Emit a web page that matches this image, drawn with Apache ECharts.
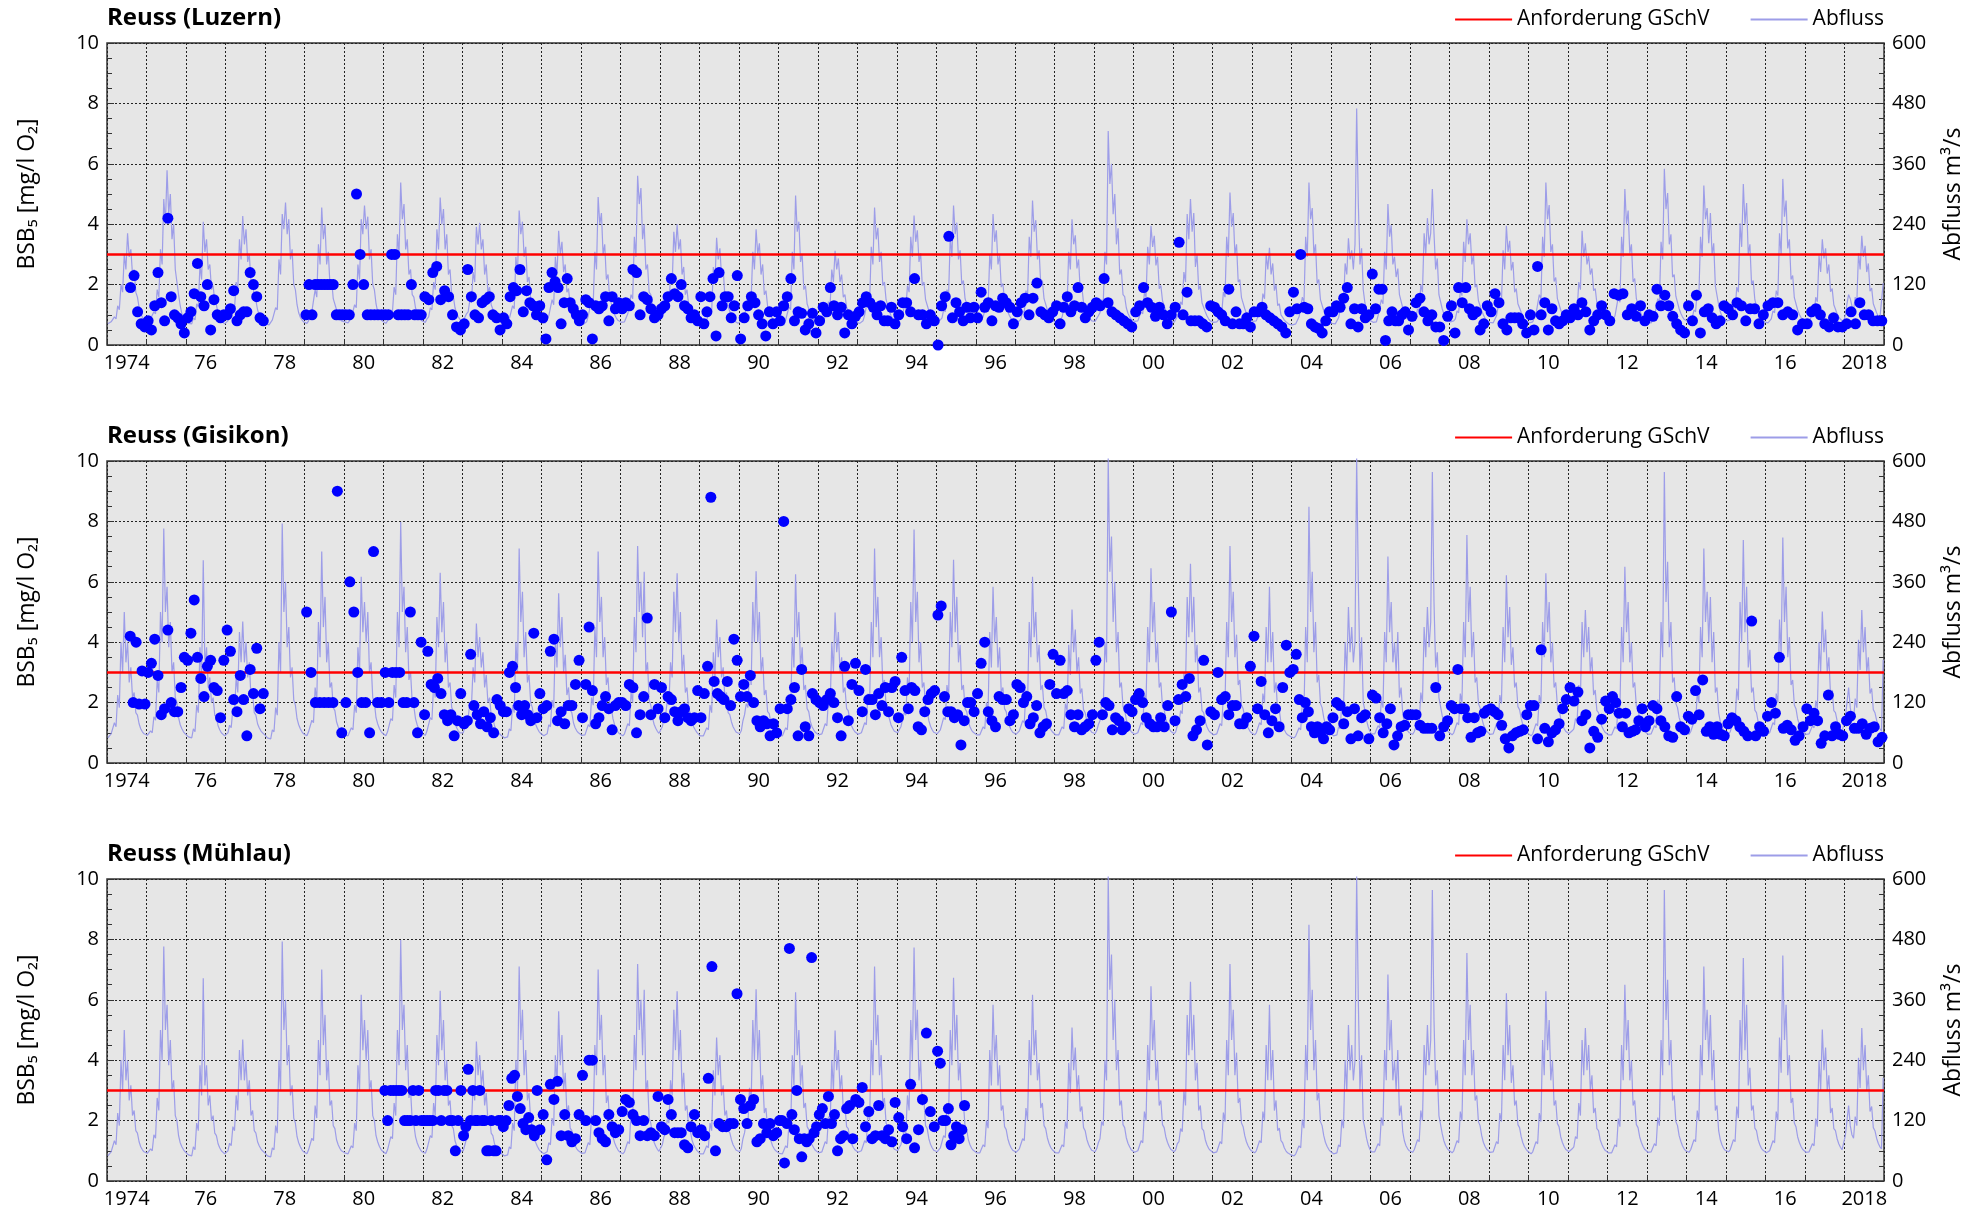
<!DOCTYPE html>
<html><head><meta charset="utf-8">
<script src="https://cdn.jsdelivr.net/npm/echarts@6/dist/echarts.min.js"></script>
<style>html,body{margin:0;padding:0;background:#fff}#chart{width:1984px;height:1214px}</style>
</head><body><div id="chart"></div>
<script>
const FONT = "'Open Sans', 'Noto Sans', sans-serif";
const panelTitles = ['Reuss (Luzern)', 'Reuss (Gisikon)', 'Reuss (Mühlau)'];
const legendNames = ['Anforderung GSchV', 'Abfluss'];
const leftAxisName = 'BSB₅ [mg/l O₂]';
const rightAxisName = 'Abfluss m³/s';
const xTickLabels = ['1974','','76','','78','','80','','82','','84','','86','','88','','90','','92','','94','','96','','98','','00','','02','','04','','06','','08','','10','','12','','14','','16','','2018'];
const xRange = [1974, 2019];
const bsbRange = [0, 10, 2];
const flowRange = [0, 600, 120];
const thresholdValue = 3;

// BSB5 measurements: [year, values in time order within that year]
const luzernSpan = [1974.55, 2019];
const luzernBsb = [
 [1974,[1.9,2.3,1.1,0.7,0.6]],
 [1975,[0.8,0.5,1.3,2.4,1.4,0.8,4.2,1.6,1.0,0.9,0.7,0.4]],
 [1976,[0.9,1.1,1.7,2.7,1.6,1.3,2.0,0.5,1.5,1.0,0.9,1.0]],
 [1977,[1.0,1.2,1.8,0.8,1.0,1.1,1.1,2.4,2.0,1.6,0.9,0.8]],
 [1979,[1.0,2.0,1.0,2.0,2.0,2.0,2.0,2.0,2.0,2.0,1.0,1.0,1.0]],
 [1980,[1.0,1.0,2.0,5.0,3.0,2.0,1.0,1.0,1.0,1.0,1.0]],
 [1981,[1.0,1.0,3.0,3.0,1.0,1.0,1.0,1.0,2.0,1.0,1.0,1.0]],
 [1982,[1.6,1.5,2.4,2.6,1.5,1.8,1.6,1.0,0.6,0.5]],
 [1983,[0.7,2.5,1.6,1.0,0.9,1.4,1.5,1.6,1.0,0.9,0.5]],
 [1984,[0.9,0.7,1.6,1.9,1.8,2.5,1.1,1.8,1.4,1.3,1.0,1.3]],
 [1985,[0.9,0.2,1.9,2.4,2.1,1.9,0.7,1.4,2.2,1.4,1.2,1.0,0.8]],
 [1986,[1.0,1.5,1.4,0.2,1.3,1.2,1.3,1.6,0.8,1.6,1.2,1.4]],
 [1987,[1.2,1.4,1.3,2.5,2.4,1.0,1.6,1.5,1.2,0.9,1.0]],
 [1988,[1.2,1.3,1.6,2.2,1.7,1.6,2.0,1.3,1.2,0.9,1.0,0.8]],
 [1989,[1.6,0.7,1.1,1.6,2.2,0.3,2.4,1.3,1.6,1.6,0.9,1.3,2.3]],
 [1990,[0.2,0.9,1.3,1.6,1.4,1.0,0.7,0.3,1.1,0.7,1.1]],
 [1991,[0.8,1.3,1.6,2.2,0.8,1.1,1.05,0.5,0.7,1.05,0.4]],
 [1992,[0.8,1.25,1.1,1.9,1.3,1.0,1.25,0.4,1.0,0.7,0.95]],
 [1993,[1.1,1.4,1.6,1.4,1.25,1.0,1.3,0.8,0.8,1.25,0.7]],
 [1994,[1.0,1.4,1.4,1.1,2.2,1.0,1.0,0.7,1.0,0.8]],
 [1995,[0.0,1.3,1.6,3.6,0.9,1.4,1.1,0.8,1.25,0.9,1.25]],
 [1996,[0.9,1.75,1.25,1.4,0.8,1.3,1.25,1.55,1.4,1.25,0.7]],
 [1997,[1.1,1.4,1.55,1.0,1.55,2.05,1.1,1.0,0.9,1.1]],
 [1998,[1.3,0.7,1.25,1.6,1.1,1.3,1.9,1.25,0.9,1.1,1.25]],
 [1999,[1.4,1.3,2.2,1.4,1.1,1.0,0.9,0.8,0.7,0.6]],
 [2000,[1.1,1.3,1.9,1.4,1.25,0.95,1.25,1.0,0.7,1.0]],
 [2001,[1.25,3.4,1.0,1.75,0.8,0.8,0.8,0.7,0.6,1.3]],
 [2002,[1.25,1.1,1.0,0.8,1.85,0.7,1.1,0.7,0.7,0.9,0.6]],
 [2003,[1.1,1.1,1.25,1.0,0.9,0.8,0.7,0.6,0.4,1.1]],
 [2004,[1.75,1.2,3.0,1.25,1.2,0.7,0.6,0.55,0.4,0.8,1.1]],
 [2005,[1.1,1.3,1.25,1.55,1.9,0.7,1.2,0.6,1.2,0.9,1.0]],
 [2006,[2.35,1.2,1.85,1.85,0.15,0.8,1.1,0.8,0.8,1.0,1.1,0.5]],
 [2007,[0.95,1.4,1.55,1.1,0.8,1.0,0.6,0.6,0.15,0.95]],
 [2008,[1.3,0.4,1.9,1.4,1.9,1.2,1.0,1.1,0.5,0.7,1.3]],
 [2009,[1.1,1.7,1.4,0.7,0.5,0.9,0.9,0.9,0.7,0.4]],
 [2010,[1.0,0.5,2.6,1.0,1.4,0.5,1.2,0.8,0.7,0.8,1.0]],
 [2011,[0.9,1.2,1.0,1.4,1.1,0.5,0.8,1.0,1.3,1.0]],
 [2012,[0.8,1.7,1.65,1.7,1.0,1.2,0.95,1.3,0.8]],
 [2013,[1.0,0.95,1.85,1.3,1.65,1.3,0.95,0.7,0.5,0.4]],
 [2014,[1.3,0.8,1.65,0.4,1.1,1.2,0.9,0.7,0.8,1.3]],
 [2015,[1.2,1.0,1.4,1.3,0.8,1.2,1.2,0.7,1.0]],
 [2016,[1.3,1.4,1.4,1.0,1.1,1.0,0.5,0.7]],
 [2017,[0.7,1.1,1.2,1.0,0.7,0.6,0.9,0.6,0.6]],
 [2018,[0.7,1.1,0.7,1.4,1.0,1.0,0.8,0.8,0.8]]
];

const gisikonSpan = [1974.55, 2019];
const gisikonBsb = [
 [1974,[4.2,2.0,4.0,1.95,3.05,1.95]],
 [1975,[3.0,3.3,4.1,2.9,1.6,1.8,4.4,2.0,1.7,1.7,2.5,3.5]],
 [1976,[3.4,4.3,5.4,3.5,2.8,2.2,3.2,3.4,2.5,2.4,1.5,3.4]],
 [1977,[4.4,3.7,2.1,1.7,2.9,2.1,0.9,3.1,2.3,3.8,1.8,2.3]],
 [1979,[5.0,3.0,2.0,2.0,2.0,2.0,2.0,9.0,1.0]],
 [1980,[2.0,6.0,5.0,3.0,2.0,2.0,1.0,7.0,2.0,2.0]],
 [1981,[3.0,2.0,3.0,3.0,3.0,2.0,2.0,5.0,2.0,1.0,4.0]],
 [1982,[1.6,3.7,2.6,2.5,2.8,2.3,1.6,1.4,1.6,0.9,1.4,2.3]],
 [1983,[1.3,1.4,3.6,1.9,1.6,1.3,1.7,1.2,1.5,1.0,2.1,1.9]],
 [1984,[1.7,1.7,3.0,3.2,2.5,1.9,1.6,1.9,1.6,1.4,4.3,1.5,2.3]],
 [1985,[1.8,1.9,3.7,4.1,1.4,1.7,1.3,1.9,1.9,2.6,3.4]],
 [1986,[1.5,2.6,4.5,2.4,1.3,1.5,1.9,2.2,1.8,1.1,1.9,2.0]],
 [1987,[2.0,1.9,2.6,2.5,1.0,1.6,2.2,4.8,1.6,2.6,1.8]],
 [1988,[2.5,1.5,2.2,2.1,1.7,1.4,1.7,1.8,1.5,1.4,1.5,2.4]],
 [1989,[1.5,2.3,3.2,8.8,2.7,2.3,2.2,2.1,2.7,1.9,4.1,3.4]],
 [1990,[2.2,2.6,2.2,2.9,2.0,1.4,1.2,1.4,1.3,0.9,1.3,1.0]],
 [1991,[1.8,8.0,1.8,2.1,2.5,0.9,3.1,1.2,0.9,2.3,2.1]],
 [1992,[2.0,1.9,2.1,2.3,2.0,1.5,0.9,3.2,1.4,2.6,3.3]],
 [1993,[2.4,1.7,3.1,2.1,2.1,1.6,2.3,1.9,2.5,1.7,2.5,2.7]],
 [1994,[1.5,3.5,2.4,1.8,2.5,2.4,1.2,1.1,1.7,2.1,2.3,2.4]],
 [1995,[4.9,5.2,2.2,1.7,1.7,1.5,1.6,0.6,1.4,2.0,2.0,1.7]],
 [1996,[2.3,3.3,4.0,1.7,1.4,1.2,2.2,2.1,2.1,1.4,1.6]],
 [1997,[2.6,2.5,2.0,2.2,1.3,1.5,1.9,1.0,1.2,1.3,2.6,3.6]],
 [1998,[2.3,3.4,2.3,2.4,1.6,1.2,1.6,1.1,1.2,1.3,1.6]],
 [1999,[3.4,4.0,1.6,2.0,1.9,1.1,1.5,1.4,1.1,1.2,1.8,1.7]],
 [2000,[2.1,2.3,2.0,1.5,1.3,1.2,1.2,1.5,1.2,1.9,5.0]],
 [2001,[1.4,2.1,2.6,2.2,2.8,0.9,1.1,1.4,3.4,0.6,1.7]],
 [2002,[1.6,3.0,2.1,2.2,1.6,1.9,1.9,1.3,1.3,1.5,3.2]],
 [2003,[4.2,1.8,2.7,1.6,1.0,1.4,1.8,1.2,2.5,3.9,3.0]],
 [2004,[3.1,3.6,2.1,1.5,2.0,1.7,1.2,1.0,1.2,1.0,0.8,1.2,1.1]],
 [2005,[1.5,2.0,1.9,1.3,1.7,0.8,1.8,0.9,1.5,1.6,0.8]],
 [2006,[2.25,2.15,1.5,1.0,1.3,1.8,0.6,0.9,1.2,1.25,1.6]],
 [2007,[1.6,1.6,1.25,1.15,1.15,1.15,2.5,0.9,1.2,1.4]],
 [2008,[1.9,1.8,3.1,1.8,1.8,1.5,0.85,1.5,1.0,1.05,1.65,1.75]],
 [2009,[1.8,1.7,1.6,1.25,0.8,0.5,0.9,1.0,1.05,1.1,1.6]],
 [2010,[1.9,1.9,0.8,3.75,1.15,0.7,1.0,1.1,1.3,1.8,2.1]],
 [2011,[2.5,2.05,2.35,1.4,1.6,0.5,1.05,0.85,1.45,2.05]],
 [2012,[1.8,2.2,2.0,1.65,1.2,1.65,1.0,1.05,1.1,1.4,1.8,1.2]],
 [2013,[1.4,1.9,1.8,1.4,1.2,0.9,0.85,2.2,1.2,1.1]],
 [2014,[1.55,1.45,2.4,1.6,2.75,1.05,1.2,0.95,1.2,0.95,0.9]],
 [2015,[1.3,1.5,1.4,1.2,1.05,0.9,4.7,0.9,1.2,1.05]],
 [2016,[1.55,2.0,1.65,3.5,1.15,1.25,1.1,0.75,0.9,1.2]],
 [2017,[1.8,1.4,1.65,1.4,0.65,0.9,2.25,0.9,1.2,0.95,0.9]],
 [2018,[1.4,1.55,1.15,1.15,1.3,0.95,1.15,1.2,0.7,0.85]]
];

const muehlauSpan = [1981, 1995.75];
const muehlauBsb = [
 [1981,[3.0,2.0,3.0,3.0,3.0,3.0,3.0,2.0,2.0,2.0,3.0,2.0,3.0,2.0]],
 [1982,[2.0,2.0,2.0,2.0,3.0,3.0,2.0,3.0,3.0,2.0,2.0,1.0,2.0,3.0]],
 [1983,[1.5,1.8,3.7,2.0,3.0,2.0,2.0,3.0,2.0,2.0,1.0,1.0,2.0,1.0,1.0,2.0,2.0]],
 [1984,[1.8,2.0,2.5,3.4,3.5,2.8,2.4,1.9,1.7,2.1,1.7,1.5,3.0,1.7]],
 [1985,[2.2,0.7,3.2,2.7,3.3,1.5,2.2,1.5,1.3,1.4,2.2]],
 [1986,[3.5,2.0,4.0,4.0,2.0,1.6,1.4,1.3,2.2,1.8,1.6,1.7]],
 [1987,[2.3,2.7,2.6,2.2,2.0,1.5,2.0,1.5,1.6,1.5,2.8]],
 [1988,[1.8,1.7,2.7,2.2,1.6,1.6,1.6,1.2,1.1,1.8,2.2,1.6]],
 [1989,[1.7,1.5,3.4,7.1,1.0,1.9,1.8,1.8,1.9,1.9,6.2]],
 [1990,[2.7,2.4,1.9,2.5,2.7,1.3,1.4,1.9,1.6,1.9,1.5,1.6]],
 [1991,[2.0,2.0,0.6,1.9,7.7,2.2,1.7,3.0,1.4,0.8,1.4,1.3,1.4,7.4,1.6,1.8]],
 [1992,[2.2,2.4,1.9,2.8,1.9,2.2,1.0,1.4,1.5,2.4,2.5,1.4,2.7]],
 [1993,[2.6,3.1,1.8,2.3,1.4,1.5,2.5,1.5,1.4,1.7,1.3,2.6]],
 [1994,[2.1,1.8,1.4,3.2,1.1,1.7,2.7,4.9,2.3,1.8]],
 [1995,[4.3,3.9,2.0,2.0,2.4,1.2,1.5,1.8,1.4,1.7,2.5]]
];

// Abfluss (m3/s), half-monthly values per year: [year, values]
const abflussLuzern = [
 [1974,[42,40,46,44,56,52,78,70,120,105,180,150,222,175,190,140,150,105,95,75,62,55,50,46]],
 [1975,[48,45,52,50,66,62,110,95,190,160,290,240,347,260,300,210,240,150,150,100,78,62,54,48]],
 [1976,[45,43,44,42,54,50,82,75,160,130,245,185,210,150,160,110,118,85,80,62,54,48,45,42]],
 [1977,[44,48,56,60,78,72,125,110,210,170,256,200,230,165,180,125,130,92,88,70,60,53,48,45]],
 [1978,[42,40,40,42,50,48,74,70,170,140,260,230,283,220,250,170,190,120,110,80,64,55,50,46]],
 [1979,[45,43,48,50,66,64,110,95,200,160,273,210,240,160,185,120,130,92,90,70,60,53,48,46]],
 [1980,[46,44,44,46,54,52,80,74,160,130,250,220,277,230,255,170,190,120,110,82,66,57,52,47]],
 [1981,[45,43,48,54,70,66,115,100,220,180,323,250,280,190,210,140,150,100,95,74,64,57,52,48]],
 [1982,[47,45,52,56,74,70,125,110,230,190,293,240,270,190,220,140,150,100,96,74,63,56,51,47]],
 [1983,[48,55,62,66,88,84,145,125,235,200,243,190,210,140,160,105,115,80,80,62,55,50,46,44]],
 [1984,[43,41,42,42,52,50,78,72,175,140,267,220,245,175,195,125,135,92,90,70,60,54,49,46]],
 [1985,[44,42,44,46,58,55,90,80,175,140,227,180,205,145,160,105,112,80,80,62,54,49,46,43]],
 [1986,[43,41,44,46,58,55,90,80,185,150,294,240,262,180,200,130,140,94,92,70,60,54,49,46]],
 [1987,[45,43,46,48,62,60,100,92,215,175,336,280,312,210,240,150,160,105,100,76,64,57,52,48]],
 [1988,[50,58,66,70,88,84,135,120,225,185,240,190,210,140,155,100,110,80,78,62,54,49,46,44]],
 [1989,[41,39,40,40,50,48,72,66,155,125,213,170,192,135,150,98,105,76,75,58,52,47,45,43]],
 [1990,[43,48,54,58,74,70,100,92,185,150,230,180,202,140,160,100,108,77,76,58,52,47,45,43]],
 [1991,[41,39,40,40,50,48,76,70,185,150,297,225,245,165,180,110,118,82,80,62,54,49,46,44]],
 [1992,[43,41,44,45,58,55,86,80,150,125,187,150,172,125,140,95,100,75,74,60,54,49,47,45]],
 [1993,[45,43,46,48,60,58,92,85,195,160,273,210,233,165,185,118,125,90,88,68,58,53,49,47]],
 [1994,[47,46,54,58,76,72,118,105,215,175,257,205,228,165,182,118,125,90,88,68,58,53,49,47]],
 [1995,[47,45,50,54,70,66,110,100,215,175,277,220,243,170,188,120,128,92,90,70,60,53,49,47]],
 [1996,[45,43,44,45,56,53,82,76,180,150,260,205,228,160,178,115,122,88,86,66,58,52,48,46]],
 [1997,[45,44,48,52,68,64,108,98,215,175,287,225,248,170,188,120,128,92,90,70,60,53,49,47]],
 [1998,[45,43,44,45,56,54,88,80,185,150,250,200,218,152,170,108,115,84,84,66,58,52,48,46]],
 [1999,[47,50,58,64,90,85,185,160,425,320,360,260,300,200,232,140,150,100,96,74,63,56,51,48]],
 [2000,[47,45,48,50,66,62,105,95,195,160,237,195,217,158,175,112,118,88,88,68,60,53,49,47]],
 [2001,[45,48,56,62,86,80,145,125,260,210,290,225,262,155,180,110,118,84,84,66,58,52,48,46]],
 [2002,[45,43,46,50,66,62,105,95,215,175,303,235,262,180,200,125,130,94,92,72,62,55,51,48]],
 [2003,[47,45,48,50,66,62,102,92,180,150,193,140,162,108,120,78,82,60,60,50,46,43,41,40]],
 [2004,[40,39,42,44,56,54,95,85,215,175,323,250,272,180,200,122,130,90,88,68,59,53,49,46]],
 [2005,[43,41,42,42,54,52,85,78,162,140,212,170,188,150,200,470,282,160,192,110,84,67,56,49]],
 [2006,[47,45,46,46,58,56,90,82,185,150,280,215,238,160,175,135,152,100,102,74,62,55,51,48]],
 [2007,[47,46,50,54,72,68,120,105,222,180,252,200,222,310,222,150,172,100,97,72,62,55,51,48]],
 [2008,[46,45,48,52,68,64,108,98,205,165,250,200,222,160,180,115,120,88,87,68,60,53,49,47]],
 [2009,[45,43,44,46,58,56,95,85,188,150,237,185,207,148,165,105,112,82,82,65,58,52,48,46]],
 [2010,[44,43,46,48,62,60,100,92,215,175,323,250,278,185,200,126,134,92,92,70,61,54,50,47]],
 [2011,[46,45,50,54,72,68,125,110,227,175,202,160,177,140,152,108,112,83,83,66,58,53,49,47]],
 [2012,[45,43,44,45,58,56,95,85,215,175,310,240,267,182,200,125,132,92,90,70,61,54,50,47]],
 [2013,[45,43,44,44,56,54,92,84,205,170,350,270,302,200,220,135,140,97,96,72,63,56,51,48]],
 [2014,[47,46,50,54,70,66,110,100,215,175,317,250,272,202,262,180,202,117,120,80,66,57,52,49]],
 [2015,[48,47,50,54,70,66,115,105,242,195,320,240,282,180,200,120,128,90,88,64,56,51,48,46]],
 [2016,[45,44,48,52,68,64,108,98,222,180,330,255,287,192,210,130,138,94,92,70,61,55,51,48]],
 [2017,[46,44,46,48,62,58,95,86,178,145,210,172,192,142,160,106,112,80,80,62,56,51,48,46]],
 [2018,[60,82,100,92,78,68,95,86,182,150,217,175,197,145,162,107,113,82,82,64,57,53,55,123]]
];

const abflussGisikon = [
 [1974,[50,48,58,55,80,72,135,110,240,180,300,200,240,160,190,130,140,100,95,78,68,62,58,55]],
 [1975,[55,52,64,60,92,85,165,140,300,240,466,300,350,230,280,180,200,130,120,90,76,68,62,58]],
 [1976,[55,52,52,50,68,62,115,100,230,170,403,190,230,150,170,120,130,95,90,74,66,60,57,54]],
 [1977,[56,60,75,70,108,100,170,140,260,200,281,200,240,170,200,130,140,100,95,78,70,64,60,57]],
 [1978,[54,50,50,48,66,62,110,95,240,180,476,300,360,230,270,170,190,125,115,88,76,68,62,58]],
 [1979,[56,54,62,60,85,80,150,125,280,210,420,270,330,200,240,150,160,110,104,82,72,65,60,57]],
 [1980,[56,53,54,52,70,66,115,100,230,180,370,260,320,240,300,180,200,130,120,90,78,69,63,59]],
 [1981,[56,54,62,64,88,84,155,130,300,230,479,300,350,220,270,165,180,120,112,88,76,68,62,58]],
 [1982,[57,55,64,66,90,86,155,130,290,230,378,260,320,200,240,150,160,110,104,80,70,64,60,57]],
 [1983,[60,72,84,90,118,112,190,160,277,210,250,190,220,150,175,120,130,95,90,74,66,61,58,55]],
 [1984,[53,50,52,52,68,64,115,100,240,180,426,280,340,210,260,160,175,120,110,88,77,69,63,59]],
 [1985,[56,54,57,58,76,72,125,110,250,190,337,230,290,180,215,135,150,105,100,80,70,64,60,57]],
 [1986,[55,52,56,58,76,72,130,115,270,210,420,280,330,210,250,155,170,118,110,88,76,68,62,58]],
 [1987,[56,54,58,60,78,74,140,120,290,220,431,300,360,250,380,180,200,125,115,90,77,69,63,59]],
 [1988,[60,72,88,95,122,115,200,170,340,260,377,240,300,180,215,140,150,105,100,82,72,66,61,58]],
 [1989,[54,52,54,54,70,66,115,100,220,170,285,210,250,170,190,130,140,100,96,82,72,66,61,58]],
 [1990,[58,64,84,96,118,110,185,155,320,240,381,240,300,180,210,135,145,102,98,80,70,64,60,57]],
 [1991,[55,52,54,54,70,66,115,100,250,190,375,250,300,190,230,145,155,108,102,82,72,66,61,58]],
 [1992,[56,54,58,60,78,74,128,110,240,180,299,220,260,180,210,140,150,108,104,84,74,67,62,59]],
 [1993,[57,55,60,62,80,76,138,120,280,210,426,270,330,210,250,155,165,115,108,88,76,69,63,60]],
 [1994,[60,62,72,74,100,95,170,140,320,240,464,280,340,200,240,150,160,110,104,84,73,66,61,58]],
 [1995,[58,56,66,68,90,86,155,130,300,230,404,260,330,200,235,145,155,108,102,82,72,65,61,58]],
 [1996,[56,54,56,56,72,68,120,105,260,190,350,240,290,190,230,140,150,108,102,84,73,66,61,58]],
 [1997,[57,56,64,64,84,80,145,120,280,210,370,250,300,200,235,145,155,110,104,86,75,67,62,59]],
 [1998,[56,54,56,56,72,68,118,104,235,175,305,220,265,180,210,138,148,106,100,83,73,66,61,58]],
 [1999,[58,64,76,84,118,110,240,200,605,380,450,280,360,220,260,150,160,112,106,86,75,68,62,59]],
 [2000,[57,55,60,62,80,76,138,120,270,200,387,260,320,200,240,150,160,112,106,88,77,69,63,60]],
 [2001,[58,62,74,78,104,98,180,150,330,250,396,260,330,200,235,140,150,104,100,82,72,65,61,58]],
 [2002,[56,54,58,60,78,74,136,118,280,210,431,280,340,210,255,155,165,115,108,90,78,70,64,60]],
 [2003,[58,56,60,62,80,76,138,120,270,200,350,200,260,140,160,100,105,80,76,66,60,56,54,52]],
 [2004,[52,50,54,54,70,66,122,105,270,200,509,300,380,220,280,160,175,118,110,90,77,69,63,59]],
 [2005,[56,54,56,56,72,68,122,105,240,180,310,220,270,200,240,605,360,180,250,120,105,85,72,63]],
 [2006,[58,56,58,58,74,70,126,110,260,200,410,260,320,200,240,180,260,130,150,98,80,70,64,60]],
 [2007,[58,57,62,64,82,78,140,120,270,210,310,230,280,578,320,190,220,130,128,94,80,71,65,61]],
 [2008,[58,56,60,62,80,76,138,120,280,210,453,280,350,210,260,160,170,118,110,90,77,69,63,60]],
 [2009,[57,55,58,60,78,74,135,118,270,200,373,250,310,195,230,150,160,112,106,88,76,68,63,59]],
 [2010,[56,54,58,60,78,74,135,118,280,210,377,260,320,200,240,150,160,114,108,88,77,69,63,60]],
 [2011,[58,57,64,68,88,84,155,130,280,210,304,220,270,180,210,135,145,104,100,82,73,66,61,58]],
 [2012,[56,54,56,56,72,68,124,108,270,200,390,260,320,200,240,150,160,112,106,88,77,69,63,60]],
 [2013,[57,55,58,58,74,70,126,110,280,210,578,320,400,230,280,160,170,118,110,90,79,70,64,60]],
 [2014,[58,57,62,64,82,78,140,120,270,210,426,280,340,240,330,200,260,140,150,100,82,72,65,61]],
 [2015,[59,58,62,64,82,78,148,125,320,240,443,260,350,190,225,140,150,105,100,82,72,65,61,58]],
 [2016,[56,55,60,62,80,76,138,120,285,215,448,280,350,210,250,155,165,115,108,88,77,69,63,60]],
 [2017,[57,55,58,58,74,70,124,108,240,180,301,220,265,180,210,135,145,104,100,84,74,67,62,59]],
 [2018,[90,120,150,110,92,85,128,110,245,185,304,220,270,180,210,138,148,106,100,85,75,68,64,205]]
];
const abflussMuehlau = abflussGisikon;

function bsbPoints(rows, span) {
  const pts = [];
  rows.forEach(([year, vals]) => {
    const s = Math.max(year, span[0]);
    const e = Math.min(year + 1, span[1]);
    vals.forEach((v, i) => pts.push([s + (e - s) * (i + 0.5) / vals.length, v]));
  });
  return pts;
}
function flowPoints(rows) {
  const pts = [];
  rows.forEach(([year, vals]) => {
    vals.forEach((v, i) => pts.push([year + (i + 0.5) / vals.length, v]));
  });
  return pts;
}

const panels = [
  {title: panelTitles[0], bsb: bsbPoints(luzernBsb, luzernSpan), flow: flowPoints(abflussLuzern)},
  {title: panelTitles[1], bsb: bsbPoints(gisikonBsb, gisikonSpan), flow: flowPoints(abflussGisikon)},
  {title: panelTitles[2], bsb: bsbPoints(muehlauBsb, muehlauSpan), flow: flowPoints(abflussMuehlau)}
];

const gridTops = [43, 461, 879];
const GRID_LEFT = 107, GRID_W = 1777, GRID_H = 302;
const FLOW_COLOR = '#9d9de8';
const dotted = {type: [2, 2], color: '#222', width: 1};
const option = {animation: false, backgroundColor: '#fff', title: [], legend: [], grid: [], xAxis: [], yAxis: [], series: []};

panels.forEach((p, g) => {
  const top = gridTops[g];
  option.title.push({text: p.title, left: GRID_LEFT, top: top - 37, padding: 0,
    textStyle: {fontFamily: FONT, fontSize: 24, fontWeight: 'bold', color: '#000'}});
  option.legend.push({data: legendNames, right: 100, top: top - 34, padding: 0,
    itemWidth: 57, itemHeight: 14, itemGap: 40,
    itemStyle: {opacity: 0},
    textStyle: {fontFamily: FONT, fontSize: 21, color: '#000'}});
  option.grid.push({left: GRID_LEFT, top: top, width: GRID_W, height: GRID_H, show: true,
    backgroundColor: '#e6e6e6', borderColor: '#333', borderWidth: 1.5});
  option.xAxis.push({type: 'category', gridIndex: g, data: xTickLabels, boundaryGap: true, position: 'bottom',
    axisLine: {show: false},
    axisTick: {show: true, inside: true, length: 5, interval: 0, lineStyle: {color: '#333'}},
    axisLabel: {interval: 0, fontFamily: FONT, fontSize: 20, color: '#000', margin: 8},
    splitLine: {show: true, interval: 0, lineStyle: dotted}});
  option.xAxis.push({type: 'value', gridIndex: g, min: xRange[0], max: xRange[1], show: false});
  option.yAxis.push({type: 'value', gridIndex: g, position: 'left', min: bsbRange[0], max: bsbRange[1], interval: bsbRange[2],
    name: leftAxisName, nameLocation: 'middle', nameRotate: 90, nameGap: 68,
    nameTextStyle: {fontFamily: FONT, fontSize: 23, color: '#000'},
    axisLine: {show: false},
    axisTick: {show: true, inside: true, length: 7, lineStyle: {color: '#333'}},
    minorTick: {show: true, splitNumber: 4, length: 5, lineStyle: {color: '#333'}},
    axisLabel: {fontFamily: FONT, fontSize: 20, color: '#000', margin: 8},
    splitLine: {show: true, lineStyle: dotted}});
  option.yAxis.push({type: 'value', gridIndex: g, position: 'right', min: flowRange[0], max: flowRange[1], interval: flowRange[2],
    name: rightAxisName, nameLocation: 'middle', nameRotate: 90, nameGap: 58,
    nameTextStyle: {fontFamily: FONT, fontSize: 23, color: '#000'},
    axisLine: {show: false},
    axisTick: {show: true, inside: true, length: 7, lineStyle: {color: '#333'}},
    minorTick: {show: true, splitNumber: 4, length: 5, lineStyle: {color: '#333'}},
    axisLabel: {fontFamily: FONT, fontSize: 20, color: '#000', margin: 8},
    splitLine: {show: false}});
  option.series.push({name: legendNames[1], type: 'line', xAxisIndex: 2 * g + 1, yAxisIndex: 2 * g + 1,
    data: p.flow, symbol: 'none', showSymbol: false, clip: false, z: 1,
    lineStyle: {color: FLOW_COLOR, width: 1.2}, itemStyle: {color: FLOW_COLOR}});
  option.series.push({name: legendNames[0], type: 'line', xAxisIndex: 2 * g + 1, yAxisIndex: 2 * g,
    data: [[xRange[0], thresholdValue], [xRange[1], thresholdValue]], symbol: 'none', showSymbol: false, z: 2,
    lineStyle: {color: '#ff0000', width: 2.5}, itemStyle: {color: '#ff0000'}});
  option.series.push({name: 'BSB5', type: 'scatter', xAxisIndex: 2 * g + 1, yAxisIndex: 2 * g,
    data: p.bsb, symbolSize: 11, z: 3, itemStyle: {color: '#0000ff', opacity: 1}});
});

const chart = echarts.init(document.getElementById('chart'));
chart.setOption(option);
</script>
</body></html>
